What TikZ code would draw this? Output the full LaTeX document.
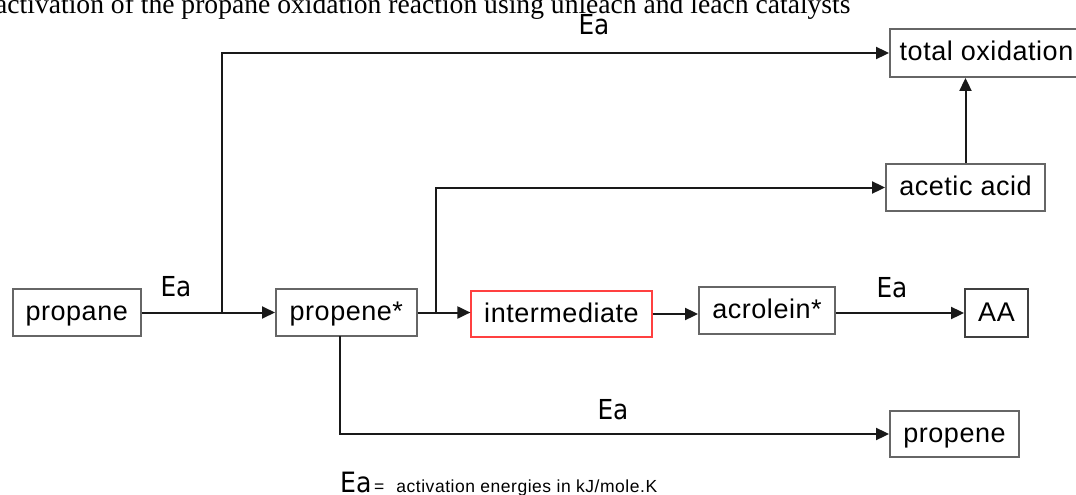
\documentclass[tikz,border=0pt]{standalone}
\usepackage{fontspec}
\setmainfont{Liberation Serif}
\newfontfamily\boxfont[LetterSpace=2]{Liberation Sans}
\newfontfamily\legfont[LetterSpace=3]{Liberation Sans}
\newfontfamily\eafont{DejaVu Sans Condensed}
\usetikzlibrary{arrows.meta}
\begin{document}
\begin{tikzpicture}[x=1pt,y=-1pt,
  box/.style={draw=black!60, line width=1.9pt, inner sep=0pt, text=black,
    text height=20pt, text depth=4pt,
    font=\boxfont\fontsize{27}{30}\selectfont},
  redbox/.style={box, draw=red!75, line width=1.2pt},
  conn/.style={line width=2pt, draw=black!90, -{Triangle[length=13pt,width=12pt]}},
  ealabel/.style={font=\eafont\fontsize{27.5}{30}\selectfont, anchor=base, inner sep=0pt, text=black}]
\useasboundingbox (0,0) rectangle (1076,495);
\node[anchor=base west, inner sep=0pt, font=\fontsize{27.6}{30}\selectfont] (title) at (-5,14)
  {activation of the propane oxidation reaction using unleach and leach catalysts};
% boxes
\node[box, minimum width=128pt, minimum height=47pt] (propane) at (76.7,312.5) {propane};
\node[box, minimum width=140.7pt, minimum height=47pt] (pstar) at (346.3,312.5) {propene*};
\node[redbox, minimum width=181pt, minimum height=46pt] (inter) at (561.5,314) {intermediate};
\node[box, minimum width=136pt, minimum height=47pt] (acro) at (767,310.5) {acrolein*};
\node[box, draw=black!75, minimum width=63pt, minimum height=48pt] (aa) at (996.5,313) {AA};
\node[box, minimum width=193pt, minimum height=48pt] (tot) at (986.5,53) {total oxidation};
\node[box, minimum width=159pt, minimum height=47pt] (acetic) at (965.5,187.5) {acetic acid};
\node[box, minimum width=129pt, minimum height=46pt] (pb) at (954.5,434) {propene};
% junction points
\coordinate (j1) at (222,312.5);
\coordinate (j2) at (436,312.5);
\coordinate (j3) at (340,336);
% connectors
\draw[conn] (propane.east) -- (pstar.west);
\draw[conn] (j1) |- (tot.west);
\draw[conn] (pstar.east) -- (pstar.east -| inter.west);
\draw[conn] (j2) |- (acetic.west);
\draw[conn] (inter.east) -- (inter.east -| acro.west);
\draw[conn] (aa.west -| acro.east) -- (aa.west);
\draw[conn] (acetic.north) -- (acetic.north |- tot.south);
\draw[conn] (j3) |- (pb.west);
% Ea labels
\node[ealabel] (ea1) at (594,35) {Ea};
\node[ealabel] (ea2) at (176,296) {Ea};
\node[ealabel] (ea3) at (892,297) {Ea};
\node[ealabel] (ea4) at (613,419) {Ea};
% legend
\node[ealabel, anchor=base west, font=\eafont\fontsize{28}{30}\selectfont] (leg) at (340,492) {Ea};
\node[anchor=base west, inner sep=0pt, font=\legfont\fontsize{17.5}{20}\selectfont] (legtxt) at (374,492)
  {=\hspace{12pt}activation energies in kJ/mole.K};
\end{tikzpicture}
\end{document}
